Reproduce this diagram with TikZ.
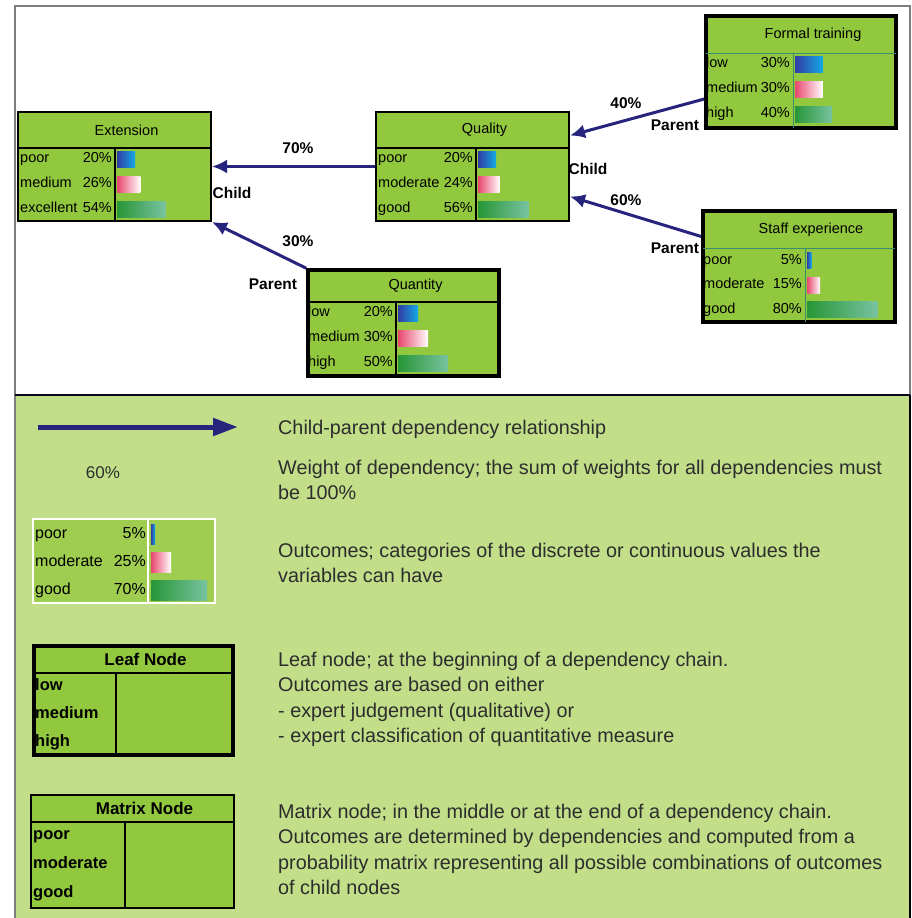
\documentclass[tikz,border=0pt]{standalone}
\usepackage{fontspec}
\setmainfont{Liberation Sans}
\usetikzlibrary{arrows.meta,fit}

\definecolor{nodegreen}{RGB}{146,200,62}
\definecolor{leggreen}{RGB}{194,222,137}
\definecolor{legnode}{RGB}{158,205,80}
\definecolor{depblue}{RGB}{38,36,124}
\definecolor{framegray}{RGB}{125,125,125}
\definecolor{rulegreen}{RGB}{60,140,110}
\definecolor{legtextgray}{RGB}{45,45,45}
\definecolor{bardark}{RGB}{50,60,165}
\definecolor{barcyan}{RGB}{20,170,230}
\definecolor{barpink}{RGB}{232,70,110}
\definecolor{bargreen}{RGB}{40,150,55}
\definecolor{barteal}{RGB}{120,195,160}

\newcommand\barh{8}

% box with title row and a split body
\newcommand\netnode[9]{%
  \begin{scope}[#8]
  \node[netbox, fit={(#2,#3) (#4,#5)}] (#1) {};
  \draw[titlerule] (#2,#6) -- (#4,#6);
  \draw[colrule] (#7,#6) -- (#7,#5);
  \node[titletext] (#1-t) at ({(#2+#4)/2+12},{(#3+#6)/2}) {#9};
  \end{scope}
}

% one outcome: label, percentage, bar
\newcommand\outrow[8]{%
  \node[rowtext, anchor=west] (#1-a) at (#2+2,#4) {#5};
  \node[rowtext, anchor=east] (#1-b) at (#3-3,#4) {#6\%};
  \shade[#7] (#3+2,#4-\barh) rectangle (#3+2+#8*#6,#4+\barh);
}

\tikzset{
  netbox/.style={draw=black, fill=nodegreen, line width=2pt, inner sep=0pt},
  titlerule/.style={draw=black, line width=1.6pt},
  colrule/.style={draw=black, line width=1.6pt},
  titletext/.style={font=\fontsize{14.5}{14.5}\selectfont, inner sep=0pt},
  rowtext/.style={font=\fontsize{14.5}{14.5}\selectfont, inner sep=0pt, text height=10.5pt, text depth=3pt},
  thickbox/.style={netbox/.append style={line width=3.5pt},
    titlerule/.append style={draw=rulegreen, line width=1pt},
    colrule/.append style={draw=rulegreen, line width=1pt}},
  bluebar/.style={left color=bardark, right color=barcyan},
  pinkbar/.style={left color=barpink, right color=white},
  greenbar/.style={left color=bargreen, right color=barteal},
  deparrow/.style={draw=depblue, line width=3pt, -{Latex[length=15pt,width=14pt]}},
  legarrow/.style={draw=depblue, line width=5pt, -{Triangle[length=25pt,width=17pt]}},
  weight/.style={font=\fontsize{15.5}{15.5}\selectfont\bfseries, inner sep=0pt},
  legtext/.style={anchor=base west, align=left, inner sep=0pt, text=legtextgray,
    font=\fontsize{19.8}{25.3}\selectfont},
  legrow/.style={font=\fontsize{16.5}{16.5}\selectfont\bfseries, inner sep=0pt, anchor=west,
    text height=12pt, text depth=3.5pt}
}

\begin{document}
\begin{tikzpicture}[x=1pt,y=-1pt]
  \useasboundingbox (0,0) rectangle (912,918);
  \fill[white] (0,0) rectangle (912,918);
  \fill[leggreen] (15,395) rectangle (910,918);
  \draw[framegray, line width=1.5pt] (15,918) -- (15,6) -- (910,6) -- (910,395);
  \draw[black, line width=1.5pt] (910,395) -- (910,918);
  \draw[black!80!depblue, line width=2pt] (15,395) -- (910,395);

  % the network
  \netnode{ext}{18}{112}{211}{221}{148}{115}{}{Extension}
  \netnode{qual}{376}{112}{569}{221}{148}{476}{}{Quality}
  \netnode{form}{706}{16}{896}{128}{53}{793}{thickbox}{Formal training}
  \netnode{staff}{703}{211}{895}{322}{248}{805}{thickbox}{Staff experience}
  \netnode{qty}{308}{270}{499}{376}{302}{396}{netbox/.append style={line width=3.5pt},
    titlerule/.append style={line width=2.4pt}}{Quantity}

  \foreach \lab/\pct/\barst [count=\i] in {poor/20/bluebar,medium/26/pinkbar,excellent/54/greenbar}
    \outrow{ext-\i}{18}{115}{134+25*\i}{\lab}{\pct}{\barst}{0.9};
  \foreach \lab/\pct/\barst [count=\i] in {poor/20/bluebar,moderate/24/pinkbar,good/56/greenbar}
    \outrow{qual-\i}{376}{476}{134+25*\i}{\lab}{\pct}{\barst}{0.9};
  \foreach \lab/\pct/\barst [count=\i] in {low/30/bluebar,medium/30/pinkbar,high/40/greenbar}
    \outrow{form-\i}{704}{793}{39+25*\i}{\lab}{\pct}{\barst}{0.93};
  \foreach \lab/\pct/\barst [count=\i] in {poor/5/bluebar,moderate/15/pinkbar,good/80/greenbar}
    \outrow{staff-\i}{701}{805}{236+24.5*\i}{\lab}{\pct}{\barst}{0.88};
  \foreach \lab/\pct/\barst [count=\i] in {low/20/bluebar,medium/30/pinkbar,high/50/greenbar}
    \outrow{qty-\i}{306}{396}{288+25*\i}{\lab}{\pct}{\barst}{1.0};

  \draw[deparrow] (qual.west) -- (ext.east);
  \draw[deparrow] (qty.north west) -- (ext.south east);
  \draw[deparrow] ([yshift=-27pt]form.west) -- ([yshift=31pt]qual.east);
  \draw[deparrow] ([yshift=30pt]staff.west) -- ([yshift=-30pt]qual.east);

  \node[weight] (w70) at (298,148) {70\%};
  \node[weight] (w30) at (298,241) {30\%};
  \node[weight] (w40) at (626,103) {40\%};
  \node[weight] (w60) at (626,200) {60\%};
  \node[weight] (ch-ext) at (232,193) {Child};
  \node[weight] (ch-qual) at (588,169) {Child};
  \node[weight] (pa-qty) at (273,284) {Parent};
  \node[weight] (pa-form) at (675,125) {Parent};
  \node[weight] (pa-staff) at (675,248) {Parent};

  % key
  \coordinate (arr-a) at (38,427);
  \coordinate (arr-b) at (238,427);
  \draw[legarrow] (arr-a) -- (arr-b);
  \node[font=\fontsize{17}{17}\selectfont, text=legtextgray, inner sep=0pt] (k60) at (103,473) {60\%};

  \begin{scope}[rowtext/.append style={font=\fontsize{16}{16}\selectfont, text height=12pt, text depth=3.5pt}]
    \renewcommand\barh{10}
    \node[netbox, draw=white, fill=legnode, line width=1.5pt, fit={(33,519) (215,603)}] (outc) {};
    \draw[white, line width=1.5pt] (148,519) -- (148,603);
    \foreach \lab/\pct/\barst [count=\i] in {poor/5/bluebar,moderate/25/pinkbar,good/70/greenbar}
      \outrow{outc-\i}{33}{149}{506+28*\i}{\lab}{\pct}{\barst}{0.8};
  \end{scope}

  \netnode{leaf}{34}{646}{233}{755}{673}{116}{netbox/.append style={line width=4.5pt},
    titlerule/.append style={line width=1.5pt},
    titletext/.append style={font=\fontsize{17}{17}\selectfont\bfseries}}{Leaf Node}
  \foreach \lab [count=\i] in {low,medium,high}
    \node[legrow] (leaf-\i) at (35,658+28*\i) {\lab};
  \netnode{mat}{31}{795}{234}{908}{822}{125}{titletext/.append style={font=\fontsize{17}{17}\selectfont\bfseries}}{Matrix Node}
  \foreach \lab [count=\i] in {poor,moderate,good}
    \node[legrow] (mat-\i) at (33,806+29*\i) {\lab};

  % base anchor of a wrapped text is its last line
  \node[legtext] (t-arrow) at (278,434.5) {Child-parent dependency relationship};
  \node[legtext] (t-weight) at (278,499.8) {Weight of dependency; the sum of weights for all dependencies must\\be 100\%};
  \node[legtext] (t-outc) at (278,582.8) {Outcomes; categories of the discrete or continuous values the\\variables can have};
  \node[legtext] (t-leaf) at (278,742.4) {Leaf node; at the beginning of a dependency chain.\\Outcomes are based on either\\- expert judgement (qualitative) or\\- expert classification of quantitative measure};
  \node[legtext] (t-mat) at (278,894.4) {Matrix node; in the middle or at the end of a dependency chain.\\Outcomes are determined by dependencies and computed from a\\probability matrix representing all possible combinations of outcomes\\of child nodes};
\end{tikzpicture}
\end{document}
